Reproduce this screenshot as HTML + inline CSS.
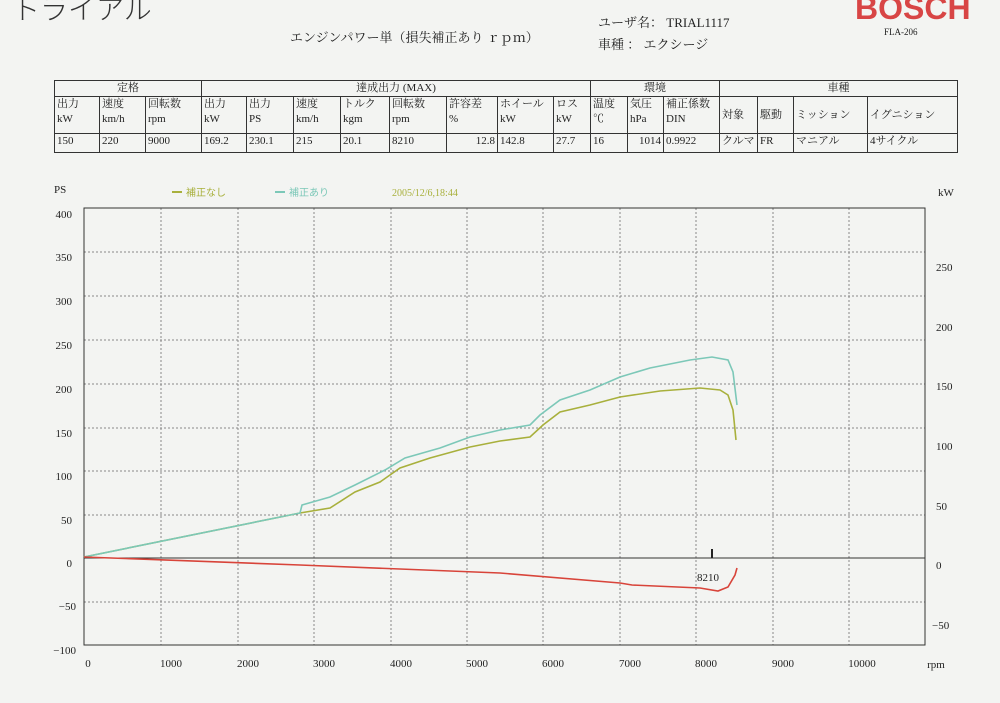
<!DOCTYPE html><html><head><meta charset="utf-8"><style>
body{margin:0;width:1000px;height:703px;background:#f3f4f2;font-family:"Liberation Serif","Noto Serif CJK SC","Noto Sans CJK JP",serif;overflow:hidden;position:relative;color:#222}
.t{position:absolute;white-space:nowrap}
table{position:absolute;left:54px;top:80px;border-collapse:collapse;font-size:11px;table-layout:fixed;width:903px;line-height:15px}
td{border:1px solid #333;padding:0 2px;vertical-align:top;white-space:nowrap;overflow:hidden}
</style></head><body>
<div class="t" style="left:12px;top:-12px;font-size:28px;font-family:'Noto Sans CJK JP',sans-serif;font-weight:200;color:#333">トライアル</div>
<div class="t" style="left:290px;top:27px;font-size:13px">エンジンパワー単（損失補正あり ｒｐｍ）</div>
<div class="t" style="left:598px;top:12px;font-size:13px">ユーザ名： TRIAL1117</div>
<div class="t" style="left:598px;top:34px;font-size:13px">車種 ： エクシージ</div>
<div class="t" style="left:855px;top:-10px;font-size:32px;font-weight:bold;color:#d84545;font-family:'Liberation Sans',sans-serif">BOSCH</div>
<div class="t" style="left:884px;top:27px;font-size:9px">FLA-206</div>
<table>
<colgroup><col style="width:45px"><col style="width:46px"><col style="width:56px"><col style="width:45px"><col style="width:47px"><col style="width:47px"><col style="width:49px"><col style="width:57px"><col style="width:51px"><col style="width:56px"><col style="width:37px"><col style="width:37px"><col style="width:36px"><col style="width:56px"><col style="width:38px"><col style="width:36px"><col style="width:74px"><col style="width:90px"></colgroup>
<tr style="height:16px"><td colspan="3" style="text-align:center">定格</td><td colspan="8" style="text-align:center">達成出力 (MAX)</td><td colspan="3" style="text-align:center">環境</td><td colspan="4" style="text-align:center">車種</td></tr>
<tr style="height:37px"><td>出力<br>kW</td><td>速度<br>km/h</td><td>回転数<br>rpm</td><td>出力<br>kW</td><td>出力<br>PS</td><td>速度<br>km/h</td><td>トルク<br>kgm</td><td>回転数<br>rpm</td><td>許容差<br>%</td><td>ホイール<br>kW</td><td>ロス<br>kW</td><td>温度<br>℃</td><td>気圧<br>hPa</td><td>補正係数<br>DIN</td><td style="vertical-align:middle">対象</td><td style="vertical-align:middle">駆動</td><td style="vertical-align:middle">ミッション</td><td style="vertical-align:middle">イグニション</td></tr>
<tr style="height:19px"><td>150</td><td>220</td><td>9000</td><td>169.2</td><td>230.1</td><td>215</td><td>20.1</td><td>8210</td><td style="text-align:right">12.8</td><td>142.8</td><td>27.7</td><td>16</td><td style="text-align:right">1014</td><td>0.9922</td><td>クルマ</td><td>FR</td><td>マニアル</td><td>4サイクル</td></tr>
</table>
<svg width="1000" height="703" style="position:absolute;left:0;top:0" font-family="Liberation Serif,serif" font-size="11" fill="#222">
<g stroke="#888" stroke-dasharray="2,2" stroke-width="1">
<line x1="161" y1="208" x2="161" y2="645"/><line x1="238" y1="208" x2="238" y2="645"/><line x1="314" y1="208" x2="314" y2="645"/><line x1="391" y1="208" x2="391" y2="645"/><line x1="467" y1="208" x2="467" y2="645"/><line x1="543" y1="208" x2="543" y2="645"/><line x1="620" y1="208" x2="620" y2="645"/><line x1="696" y1="208" x2="696" y2="645"/><line x1="773" y1="208" x2="773" y2="645"/><line x1="849" y1="208" x2="849" y2="645"/>
<line x1="84" y1="252" x2="925" y2="252"/><line x1="84" y1="296" x2="925" y2="296"/><line x1="84" y1="340" x2="925" y2="340"/><line x1="84" y1="384" x2="925" y2="384"/><line x1="84" y1="428" x2="925" y2="428"/><line x1="84" y1="471" x2="925" y2="471"/><line x1="84" y1="515" x2="925" y2="515"/><line x1="84" y1="602" x2="925" y2="602"/>
</g>
<line x1="84" y1="558" x2="925" y2="558" stroke="#333"/>
<rect x="84" y="208" width="841" height="437" fill="none" stroke="#333"/>
<line x1="712" y1="549" x2="712" y2="558" stroke="#222" stroke-width="2"/>
<text x="697" y="581">8210</text>
<g fill="none" stroke-width="1.6">
<polyline stroke="#a8b03c" points="84,557 300,513 330,508 355,492 380,482 400,468 430,458 470,447 500,441 530,437 543,425 560,412 590,405 620,397 660,391 700,388 720,390 728,395 733,410 736,440"/>
<polyline stroke="#7cc8b8" points="84,557 300,513 302,505 330,497 355,485 385,470 405,458 440,448 470,437 500,430 530,425 540,415 560,400 590,390 620,377 650,368 690,360 712,357 728,360 733,372 737,405"/>
<polyline stroke="#d8443a" points="84,557 300,565 500,573 620,583 632,585 700,588 718,591 728,587 735,575 737,568"/>
</g>
<g text-anchor="end"><text x="72" y="218">400</text><text x="72" y="261">350</text><text x="72" y="305">300</text><text x="72" y="349">250</text><text x="72" y="393">200</text><text x="72" y="437">150</text><text x="72" y="480">100</text><text x="72" y="524">50</text><text x="72" y="567">0</text><text x="76" y="654">−100</text><text x="76" y="610">−50</text></g>
<text x="54" y="193">PS</text><text x="938" y="196">kW</text>
<g><text x="936" y="271">250</text><text x="936" y="331">200</text><text x="936" y="390">150</text><text x="936" y="450">100</text><text x="936" y="510">50</text><text x="936" y="569">0</text><text x="932" y="629">−50</text></g>
<g text-anchor="middle"><text x="88" y="667">0</text><text x="171" y="667">1000</text><text x="248" y="667">2000</text><text x="324" y="667">3000</text><text x="401" y="667">4000</text><text x="477" y="667">5000</text><text x="553" y="667">6000</text><text x="630" y="667">7000</text><text x="706" y="667">8000</text><text x="783" y="667">9000</text><text x="862" y="667">10000</text><text x="936" y="668">rpm</text></g>
<line x1="172" y1="192" x2="182" y2="192" stroke="#a8b03c" stroke-width="2"/><text x="186" y="196" fill="#a8b03c" font-size="10">補正なし</text>
<line x1="275" y1="192" x2="285" y2="192" stroke="#7cc8b8" stroke-width="2"/><text x="289" y="196" fill="#7cc8b8" font-size="10">補正あり</text>
<text x="392" y="196" fill="#a8b03c" font-size="10">2005/12/6,18:44</text>
</svg>
</body></html>
